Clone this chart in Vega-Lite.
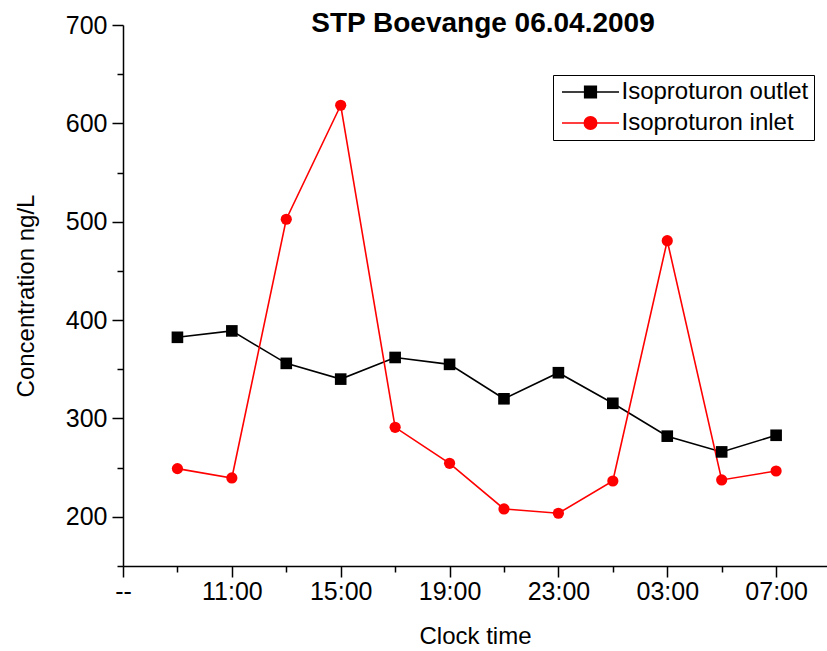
{
  "$schema": "https://vega.github.io/schema/vega-lite/v6.json",
  "width": 704,
  "height": 541,
  "autosize": {"type": "none"},
  "padding": {"left": 123, "top": 25, "right": 0, "bottom": 85},
  "background": "white",
  "config": {
    "font": "Liberation Sans",
    "view": {"stroke": null},
    "axis": {
      "grid": false,
      "domainColor": "black",
      "tickColor": "black",
      "labelColor": "black",
      "titleColor": "black",
      "labelFont": "Liberation Sans",
      "titleFont": "Liberation Sans",
      "labelFontSize": 25,
      "titleFontSize": 24,
      "titleFontWeight": "normal",
      "domainWidth": 1.5,
      "tickWidth": 1.5
    }
  },
  "title": {
    "text": "STP Boevange 06.04.2009",
    "font": "Liberation Sans",
    "fontSize": 28,
    "fontWeight": "bold",
    "color": "black",
    "anchor": "middle",
    "dx": 8,
    "offset": -25
  },
  "data": {
    "values": [
      {"t": 2, "series": "Isoproturon outlet", "c": 382.5},
      {"t": 4, "series": "Isoproturon outlet", "c": 389},
      {"t": 6, "series": "Isoproturon outlet", "c": 356},
      {"t": 8, "series": "Isoproturon outlet", "c": 340},
      {"t": 10, "series": "Isoproturon outlet", "c": 362},
      {"t": 12, "series": "Isoproturon outlet", "c": 355},
      {"t": 14, "series": "Isoproturon outlet", "c": 320},
      {"t": 16, "series": "Isoproturon outlet", "c": 346.5},
      {"t": 18, "series": "Isoproturon outlet", "c": 315.4},
      {"t": 20, "series": "Isoproturon outlet", "c": 282},
      {"t": 22, "series": "Isoproturon outlet", "c": 266},
      {"t": 24, "series": "Isoproturon outlet", "c": 282.9},
      {"t": 2, "series": "Isoproturon inlet", "c": 249},
      {"t": 4, "series": "Isoproturon inlet", "c": 239.5},
      {"t": 6, "series": "Isoproturon inlet", "c": 502.5},
      {"t": 8, "series": "Isoproturon inlet", "c": 618.4},
      {"t": 10, "series": "Isoproturon inlet", "c": 291},
      {"t": 12, "series": "Isoproturon inlet", "c": 254.4},
      {"t": 14, "series": "Isoproturon inlet", "c": 208},
      {"t": 16, "series": "Isoproturon inlet", "c": 203.6},
      {"t": 18, "series": "Isoproturon inlet", "c": 236.4},
      {"t": 20, "series": "Isoproturon inlet", "c": 480.7},
      {"t": 22, "series": "Isoproturon inlet", "c": 237.5},
      {"t": 24, "series": "Isoproturon inlet", "c": 246.6}
    ]
  },
  "encoding": {
    "x": {
      "field": "t",
      "type": "quantitative",
      "scale": {"domain": [0, 25.87], "nice": false, "zero": false},
      "axis": {
        "title": "Clock time",
        "values": [0, 2, 4, 6, 8, 10, 12, 14, 16, 18, 20, 22, 24],
        "labelExpr": "datum.value % 4 != 0 ? '' : (datum.value == 0 ? '--' : ((((7 + datum.value) % 24) < 10 ? '0' : '') + ((7 + datum.value) % 24) + ':00'))",
        "tickSize": {"condition": {"test": "datum.value % 4 == 0", "value": 11}, "value": 6},
        "labelPadding": 2,
        "titlePadding": 20,
        "labelFlush": false,
        "labelOverlap": false
      }
    },
    "y": {
      "field": "c",
      "type": "quantitative",
      "scale": {"domain": [150, 700], "nice": false, "zero": false},
      "axis": {
        "title": "Concentration ng/L",
        "values": [150, 200, 250, 300, 350, 400, 450, 500, 550, 600, 650, 700],
        "labelExpr": "datum.value % 100 != 0 ? '' : datum.label",
        "tickSize": {"condition": {"test": "datum.value % 100 == 0", "value": 11}, "value": 6},
        "labelPadding": 5,
        "titlePadding": 27,
        "labelFlush": false,
        "labelOverlap": false
      }
    }
  },
  "layer": [
    {
      "mark": {"type": "line", "strokeWidth": 1.6},
      "encoding": {
        "color": {
          "field": "series",
          "type": "nominal",
          "scale": {"domain": ["Isoproturon outlet", "Isoproturon inlet"], "range": ["#000000", "#ff0000"]},
          "legend": {
            "title": null,
            "orient": "none",
            "legendX": 430,
            "legendY": 50,
            "strokeColor": "#000000",
            "fillColor": "white",
            "padding": 5,
            "labelFont": "Liberation Sans",
            "labelFontSize": 24,
            "labelColor": "black",
            "labelLimit": 400,
            "symbolSize": 400,
            "symbolStrokeWidth": 1.6,
            "symbolOffset": 20.5,
            "labelOffset": 19,
            "rowPadding": 7,
            "encode": {
              "symbols": {
                "update": {
                  "shape": {"signal": "datum.value == 'Isoproturon outlet' ? 'M-2.85,0H2.85M-0.58,-0.58H0.58V0.58H-0.58Z' : 'M-2.85,0H2.85M-0.62,0A0.62,0.62 0 1,0 0.62,0A0.62,0.62 0 1,0 -0.62,0Z'"},
                  "fill": {"scale": "color", "field": "value"},
                  "stroke": {"scale": "color", "field": "value"},
                  "strokeWidth": {"value": 1.6},
                  "opacity": {"value": 1}
                }
              }
            }
          }
        }
      }
    },
    {
      "transform": [{"filter": "datum.series == 'Isoproturon outlet'"}],
      "mark": {"type": "point", "shape": "square", "filled": true, "size": 135, "color": "#000000", "opacity": 1}
    },
    {
      "transform": [{"filter": "datum.series == 'Isoproturon inlet'"}],
      "mark": {"type": "point", "shape": "circle", "filled": true, "size": 125, "color": "#ff0000", "opacity": 1}
    }
  ]
}
